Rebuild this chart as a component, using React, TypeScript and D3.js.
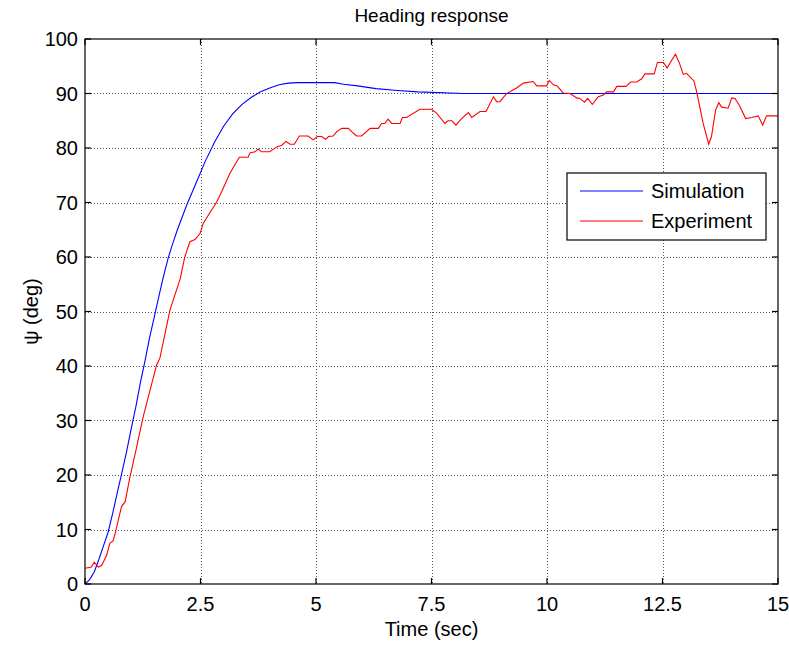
import React, { useEffect, useRef } from "react";
import * as d3 from "d3";

// simulated heading (blue)
const simTime = [0, 0.1, 0.2, 0.3, 0.4, 0.5, 0.6, 0.7, 0.8, 0.9, 1.0, 1.1, 1.2, 1.3, 1.4, 1.5, 1.6, 1.7, 1.8, 1.9, 2.0, 2.2, 2.4, 2.6, 2.8, 3.0, 3.2, 3.4, 3.6, 3.8, 4.0, 4.2, 4.4, 4.6, 5.0, 5.4, 5.6, 5.9, 6.3, 6.7, 7.2, 8.2, 15];
const simHeading = [0, 0.8, 2.2, 4.5, 7, 9.5, 13, 16.8, 20.5, 24.3, 28.5, 32.5, 37, 41, 45.3, 49, 52.8, 56.5, 59.8, 62.5, 65, 69.5, 73.5, 77.5, 81, 84, 86.3, 88, 89.3, 90.3, 91, 91.6, 91.9, 92, 92, 92, 91.7, 91.4, 90.9, 90.6, 90.3, 90, 90];

// measured heading (red)
const expTime = [0, 0.14, 0.2, 0.29, 0.36, 0.47, 0.54, 0.61, 0.67, 0.79, 0.87, 0.97, 1.12, 1.26, 1.41, 1.55, 1.62, 1.84, 2.06, 2.16, 2.27, 2.38, 2.49, 2.56, 2.85, 2.96, 3.14, 3.34, 3.53, 3.57, 3.68, 3.75, 3.82, 4.0, 4.15, 4.26, 4.35, 4.44, 4.53, 4.64, 4.83, 4.94, 5.03, 5.12, 5.21, 5.27, 5.37, 5.45, 5.56, 5.7, 5.81, 5.88, 5.99, 6.17, 6.35, 6.42, 6.49, 6.56, 6.64, 6.82, 6.87, 6.96, 7.25, 7.5, 7.61, 7.79, 7.86, 7.94, 8.03, 8.15, 8.3, 8.37, 8.55, 8.68, 8.84, 8.91, 8.98, 9.13, 9.34, 9.49, 9.7, 9.78, 9.99, 10.05, 10.14, 10.22, 10.35, 10.5, 10.64, 10.71, 10.81, 10.88, 10.98, 11.11, 11.22, 11.29, 11.44, 11.51, 11.71, 11.81, 11.94, 12.05, 12.12, 12.32, 12.39, 12.52, 12.6, 12.7, 12.78, 12.86, 12.95, 13.02, 13.18, 13.24, 13.38, 13.5, 13.56, 13.65, 13.72, 13.78, 13.92, 14.0, 14.07, 14.16, 14.3, 14.43, 14.57, 14.67, 14.75, 15.0];
const expHeading = [2.9, 3.1, 4, 3.1, 3.4, 5.3, 7.5, 7.9, 9.9, 14.2, 15.1, 19.5, 25.2, 30.7, 35.6, 40.2, 41.4, 50.3, 56, 60, 62.8, 63.2, 64.3, 66.2, 70.1, 72, 75.4, 78.3, 78.3, 79.1, 79.3, 79.8, 79.3, 79.3, 80.2, 80.5, 81.2, 80.7, 80.7, 82.2, 82.2, 81.5, 82.1, 82.1, 81.6, 82.1, 82.2, 83, 83.6, 83.6, 82.7, 82.2, 82.2, 83.6, 83.6, 84.5, 84.5, 85.3, 84.5, 84.5, 85.6, 85.6, 87.1, 87.1, 86.4, 84.5, 85, 85, 84.2, 85.4, 86.5, 85.6, 86.7, 86.7, 89.4, 88.5, 88.5, 90, 91, 91.9, 92.2, 91.4, 91.4, 92.4, 91.6, 91.4, 90.1, 90, 89.2, 89.1, 88.4, 89.1, 88, 89.4, 89.7, 90.3, 90.3, 91.3, 91.3, 92.1, 92.1, 92.7, 93.6, 93.6, 95.7, 95.7, 94.7, 96.1, 97.2, 95.7, 93.5, 93.7, 92.3, 90.3, 84.5, 80.7, 82.1, 87, 88.3, 87.5, 87.3, 89.2, 89.1, 87.9, 85.4, 85.6, 85.9, 84.2, 85.9, 85.9];

const xTicks = [0, 2.5, 5, 7.5, 10, 12.5, 15];
const yTicks = [0, 10, 20, 30, 40, 50, 60, 70, 80, 90, 100];
const seriesNames = ["Simulation", "Experiment"];
const seriesColors = ["#0000ff", "#ff0000"];

const App = () => {
  const svgRef = useRef<SVGSVGElement>(null);

  useEffect(() => {
    const width = 789;
    const height = 645;
    const margin = { top: 39, right: 11, bottom: 61, left: 85 };
    const font = "'Liberation Sans', Arial, sans-serif";

    const svg = d3.select(svgRef.current);
    svg.selectAll("*").remove();
    svg.attr("width", width).attr("height", height);

    const x = d3.scaleLinear().domain([0, 15]).range([margin.left, width - margin.right]);
    const y = d3.scaleLinear().domain([0, 100]).range([height - margin.top - margin.bottom + margin.top, margin.top]);
    const [x0, x1] = x.range();
    const [y0, y1] = y.range();

    svg.append("rect").attr("width", width).attr("height", height).attr("fill", "#fff");

    // dotted grid
    const grid = svg.append("g").attr("stroke", "#555").attr("stroke-width", 1).attr("stroke-dasharray", "1,2");
    grid.selectAll(".gx").data(xTicks.slice(1, -1)).enter().append("line")
      .attr("x1", (d) => Math.round(x(d)) + 0.5).attr("x2", (d) => Math.round(x(d)) + 0.5)
      .attr("y1", y1).attr("y2", y0);
    grid.selectAll(".gy").data(yTicks.slice(1, -1)).enter().append("line")
      .attr("y1", (d) => Math.round(y(d)) + 0.5).attr("y2", (d) => Math.round(y(d)) + 0.5)
      .attr("x1", x0).attr("x2", x1);

    const clip = svg.append("clipPath").attr("id", "plotclip").append("rect")
      .attr("x", x0).attr("y", y1).attr("width", x1 - x0).attr("height", y0 - y1);

    const line = d3.line<number[]>().x((d) => x(d[0])).y((d) => y(d[1]));
    const simData = simTime.map((t, i) => [t, simHeading[i]]);
    const expData = expTime.map((t, i) => [t, expHeading[i]]);

    const plot = svg.append("g").attr("clip-path", "url(#plotclip)");
    plot.append("path").datum(simData).attr("d", line).attr("fill", "none")
      .attr("stroke", seriesColors[0]).attr("stroke-width", 1.1);
    plot.append("path").datum(expData).attr("d", line).attr("fill", "none")
      .attr("stroke", seriesColors[1]).attr("stroke-width", 1.1);

    // box + inward ticks on all sides
    const tickLen = 6;
    const axes = svg.append("g").attr("stroke", "#000").attr("stroke-width", 1.2);
    axes.append("rect").attr("x", x0).attr("y", y1).attr("width", x1 - x0).attr("height", y0 - y1).attr("fill", "none");
    xTicks.forEach((t) => {
      axes.append("line").attr("x1", x(t)).attr("x2", x(t)).attr("y1", y0).attr("y2", y0 - tickLen);
      axes.append("line").attr("x1", x(t)).attr("x2", x(t)).attr("y1", y1).attr("y2", y1 + tickLen);
    });
    yTicks.forEach((v) => {
      axes.append("line").attr("x1", x0).attr("x2", x0 + tickLen).attr("y1", y(v)).attr("y2", y(v));
      axes.append("line").attr("x1", x1).attr("x2", x1 - tickLen).attr("y1", y(v)).attr("y2", y(v));
    });

    const txt = svg.append("g").attr("font-family", font).attr("font-size", 20).attr("fill", "#000");
    txt.selectAll(".xl").data(xTicks).enter().append("text")
      .attr("x", (d) => x(d)).attr("y", y0 + 27).attr("text-anchor", "middle").text((d) => String(d));
    txt.selectAll(".yl").data(yTicks).enter().append("text")
      .attr("x", x0 - 7).attr("y", (d) => y(d) + 7).attr("text-anchor", "end").text((d) => String(d));

    txt.append("text").attr("x", (x0 + x1) / 2).attr("y", 22).attr("text-anchor", "middle")
      .attr("font-size", 19).text("Heading response");
    txt.append("text").attr("x", (x0 + x1) / 2).attr("y", 636).attr("text-anchor", "middle").text("Time (sec)");
    txt.append("text").attr("transform", `translate(38, ${(y0 + y1) / 2}) rotate(-90)`)
      .attr("text-anchor", "middle").text("\u03c8 (deg)");

    // legend
    const lg = svg.append("g");
    lg.append("rect").attr("x", 567).attr("y", 173).attr("width", 199).attr("height", 67)
      .attr("fill", "#fff").attr("stroke", "#000").attr("stroke-width", 1.2);
    seriesNames.forEach((name, i) => {
      const ly = 191 + i * 30;
      lg.append("line").attr("x1", 580).attr("x2", 643).attr("y1", ly).attr("y2", ly)
        .attr("stroke", seriesColors[i]).attr("stroke-width", 1.1);
      lg.append("text").attr("x", 651).attr("y", ly + 7).attr("font-family", font).attr("font-size", 20)
        .text(name);
    });
  }, []);

  return <svg ref={svgRef} style={{ position: "absolute", left: 0, top: 0, display: "block" }}></svg>;
};

export default App;
